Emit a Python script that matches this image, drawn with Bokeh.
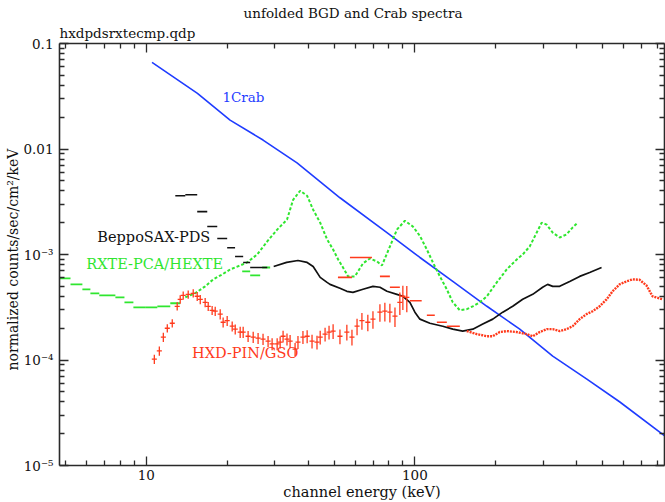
import numpy as np
from bokeh.plotting import figure
from bokeh.models import (FixedTicker, CustomJSTickFormatter, LogAxis, Title,
                          Range1d)
from bokeh.embed import file_html
from bokeh.resources import INLINE
from bokeh.core.properties import value

# ---------------- data ----------------
# 1 Crab model spectrum
crab_energy = [10.5, 15.5, 20.5, 27.2, 36.4, 52.6, 78.7, 104.4, 138.4, 185.4,
               245.7, 326, 435.5, 578, 849]
crab_rate = [0.0662, 0.0337, 0.0188, 0.01216, 7.38e-3, 3.45e-3, 1.61e-3, 9.37e-4,
             5.56e-4, 3.23e-4, 1.96e-4, 1.09e-4, 6.62e-5, 4.02e-5, 1.92e-5]

# RXTE-PCA/HEXTE background: wide low-energy bins
rxte_wide_lo = [4.7, 5.22, 5.78, 6.19, 6.68, 7.67, 8.29, 8.95, 9.96, 10.99, 12.28]
rxte_wide_hi = [5.22, 5.78, 6.19, 6.68, 7.67, 8.29, 8.95, 9.96, 10.99, 12.28, 13.37]
rxte_wide_rate = [5.94e-4, 5.21e-4, 4.68e-4, 4.29e-4, 4.10e-4, 3.93e-4, 3.52e-4,
                  3.16e-4, 3.16e-4, 3.23e-4, 3.45e-4]
# HEXTE wide bins lying below the PCA curve
hexte_lo = [22.75, 24.36, 27.0]
hexte_hi = [24.36, 26.54, 28.91]
hexte_rate = [6.91e-4, 6.34e-4, 7.53e-4]
# RXTE fine bins
rxte_energy = [13.97, 15.2, 16.56, 17.74, 19.16, 20.53, 22.36, 23.74, 25.86, 28.2,
               30.7, 33.4, 35.2, 37.4, 39.7, 41.8, 44.4, 47.1, 49.6, 51.8,
               54.0, 56.4, 59.8, 64.1, 68.0, 72.3, 75.4, 80.7, 85.7, 91.8,
               98.3, 104.4, 110.8, 116.7, 123.9, 131.5, 138.4, 147, 156, 164.3,
               174.5, 185.4, 201.8, 219.8, 239.5, 252, 267.6, 284, 296.5, 309.5,
               326, 346, 367, 386.5, 403.6]
rxte_rate = [3.93e-4, 4.29e-4, 4.99e-4, 5.81e-4, 6.47e-4, 7.22e-4, 7.87e-4, 8.41e-4, 1.0e-3, 1.33e-3,
             1.72e-3, 2.14e-3, 3.30e-3, 4.02e-3, 3.6e-3, 2.66e-3, 2.0e-3, 1.39e-3, 1.115e-3, 8.97e-4,
             7.53e-4, 6.2e-4, 6.2e-4, 8.23e-4, 9.16e-4, 8.59e-4, 7.87e-4, 1.19e-3, 1.72e-3, 2.09e-3,
             1.84e-3, 1.50e-3, 1.115e-3, 8.41e-4, 6.2e-4, 4.67e-4, 3.52e-4, 2.96e-4, 3.03e-4, 3.23e-4,
             3.52e-4, 4.02e-4, 5.44e-4, 7.22e-4, 8.97e-4, 1.0e-3, 1.19e-3, 1.61e-3, 2.0e-3, 1.92e-3,
             1.61e-3, 1.45e-3, 1.55e-3, 1.80e-3, 2.0e-3]

# BeppoSAX-PDS background: wide bins, then fine bins
pds_wide_lo = [12.82, 13.97, 15.47, 16.86, 18.37, 20.0, 21.4, 22.94, 24.36]
pds_wide_hi = [13.97, 15.47, 16.86, 18.37, 20.0, 21.4, 22.94, 24.36, 28.2]
pds_wide_rate = [3.60e-3, 3.68e-3, 2.55e-3, 1.84e-3, 1.42e-3, 1.16e-3, 9.57e-4, 8.41e-4, 7.53e-4]
pds_energy = [29.8, 33.3, 36.7, 39.7, 41.8, 44.4, 47.1, 48.3, 52.6, 55.8, 58.8, 64.1,
              69.8, 74.1, 78.7, 85.7, 90.2, 95.8, 100, 104.4, 113.7, 127, 138.4,
              150.7, 164.3, 179, 195, 212.4, 231.4, 252, 274.6, 299, 312, 326, 346,
              377, 410.7, 447.5, 495.5]
pds_rate = [7.7e-4, 8.41e-4, 8.77e-4, 8.41e-4, 7.7e-4, 6.07e-4, 5.44e-4, 5.21e-4, 4.78e-4,
            4.48e-4, 4.38e-4, 4.68e-4, 4.99e-4, 4.89e-4, 4.48e-4, 4.19e-4, 4.02e-4, 3.52e-4,
            2.84e-4, 2.44e-4, 2.23e-4, 2.09e-4, 1.96e-4, 1.88e-4, 1.96e-4, 2.19e-4, 2.44e-4,
            2.84e-4, 3.23e-4, 3.76e-4, 4.19e-4, 4.89e-4, 5.21e-4, 4.99e-4, 4.99e-4, 5.56e-4,
            6.2e-4, 6.76e-4, 7.53e-4]

# HXD-PIN (crosses with error bars)
pin_energy = [10.71, 11.18, 11.57, 11.97, 12.49, 13.03, 13.37, 13.72, 14.32, 14.95,
              15.47, 15.88, 16.56, 17.0, 17.58, 18.05, 18.84, 19.32, 20.0, 20.88,
              21.43, 22.36, 22.94, 23.93, 25.0, 26.07, 27.2, 28.4, 29.4, 30.7,
              31.5, 32.3, 33.4, 34.3, 35.8, 36.7, 38.3, 39.7, 41.4, 43.2,
              44.4, 46.3, 47.9, 49.6, 52.6, 55.8, 58.3, 60.9, 63.5, 66.8,
              69.8, 74.1, 77.3, 80.7, 84.3, 87.9, 90.2, 93.3]
pin_rate = [1.02e-4, 1.22e-4, 1.65e-4, 2.0e-4, 2.23e-4, 3.23e-4, 3.76e-4, 4.10e-4, 4.19e-4, 4.29e-4,
            4.02e-4, 3.76e-4, 3.52e-4, 3.23e-4, 2.96e-4, 2.90e-4, 2.72e-4, 2.28e-4, 2.36e-4, 2.09e-4,
            1.96e-4, 1.84e-4, 1.84e-4, 1.68e-4, 1.65e-4, 1.61e-4, 1.58e-4, 1.51e-4, 1.42e-4, 1.42e-4,
            1.48e-4, 1.68e-4, 1.58e-4, 1.51e-4, 1.27e-4, 1.48e-4, 1.65e-4, 1.68e-4, 1.51e-4, 1.48e-4,
            1.65e-4, 1.76e-4, 1.84e-4, 1.88e-4, 1.68e-4, 1.84e-4, 1.65e-4, 2.09e-4, 2.36e-4, 2.28e-4,
            2.44e-4, 2.84e-4, 2.90e-4, 2.84e-4, 2.60e-4, 3.52e-4, 4.02e-4, 3.93e-4]
pin_err = [0.10, 0.10, 0.10, 0.09, 0.09, 0.09, 0.09, 0.09, 0.09, 0.09,
           0.10, 0.10, 0.10, 0.10, 0.10, 0.10, 0.11, 0.11, 0.11, 0.11,
           0.11, 0.12, 0.12, 0.12, 0.12, 0.12, 0.12, 0.12, 0.13, 0.13,
           0.13, 0.13, 0.13, 0.14, 0.14, 0.14, 0.14, 0.14, 0.15, 0.15,
           0.15, 0.15, 0.15, 0.16, 0.16, 0.17, 0.17, 0.18, 0.18, 0.18,
           0.19, 0.19, 0.20, 0.20, 0.21, 0.24, 0.26, 0.28]

# HXD-GSO: wide bins, then fine bins
gso_wide_lo = [51.7, 57.3, 74.1, 80.7, 95.8, 110.8, 120.7, 131.5]
gso_wide_hi = [58.3, 69.2, 80.7, 87.9, 106.0, 118.6, 131.5, 147.0]
gso_wide_rate = [6.07e-4, 9.37e-4, 6.2e-4, 4.89e-4, 3.65e-4, 2.66e-4, 2.28e-4, 2.09e-4]
gso_energy = [156, 170, 185.4, 195, 207, 219.8, 239.5, 260.6, 274.6, 291.5,
              309.5, 326, 346, 367, 386.5, 410.7, 435.5, 459, 487.5, 517.6,
              544.6, 578.5, 613.6, 646, 686, 728, 767, 836]
gso_rate = [1.88e-4, 1.76e-4, 1.68e-4, 1.68e-4, 1.84e-4, 1.88e-4, 1.84e-4, 1.76e-4, 1.68e-4, 1.84e-4,
            1.96e-4, 1.96e-4, 1.88e-4, 1.96e-4, 2.09e-4, 2.44e-4, 2.72e-4, 2.90e-4, 3.23e-4, 3.76e-4,
            4.48e-4, 5.21e-4, 5.56e-4, 5.81e-4, 5.76e-4, 5.10e-4, 4.02e-4, 3.76e-4]

# axis ticks
x_major = [10, 100]
y_major = [1e-5, 1e-4, 1e-3, 1e-2, 1e-1]

# series labels (text, anchor energy, anchor rate)
label_text = ["1Crab", "BeppoSAX-PDS", "RXTE-PCA/HEXTE", "HXD-PIN/GSO"]
label_energy = [19.2, 6.57, 5.98, 14.8]
label_rate = [0.031, 1.45e-3, 8.05e-4, 1.16e-4]

# ---------------- styles ----------------
BLUE = "#1f3cff"
GREEN = "#2fe62f"
RED = "#ff3a1c"
BLACK = "#111111"
AXIS = "#2a2a2a"
FONT = "DejaVu Serif"
label_colors = [BLUE, BLACK, GREEN, RED]
label_sizes = ["13.5px", "14.5px", "14.5px", "14.5px"]

p = figure(width=665, height=502, x_axis_type="log", y_axis_type="log",
           x_range=Range1d(4.75, 850), y_range=Range1d(1e-5, 0.1),
           output_backend="svg", toolbar_location=None,
           min_border_left=59, min_border_right=1, min_border_top=43,
           min_border_bottom=35, background_fill_color="white",
           border_fill_color="white", outline_line_color=None)
p.xgrid.visible = False
p.ygrid.visible = False

x_minor = [m * 10 ** k for k in range(0, 3) for m in range(2, 10)]
y_minor = [m * 10.0 ** k for k in range(-5, -1) for m in range(2, 10)]
xticker = FixedTicker(ticks=x_major, minor_ticks=x_minor)
yticker = FixedTicker(ticks=y_major, minor_ticks=y_minor)

xfmt = CustomJSTickFormatter(code="return tick.toFixed(0);")
yfmt = CustomJSTickFormatter(code="""
const e = Math.round(Math.log10(tick));
const m = {"-1": "0.1", "-2": "0.01", "-3": "10\u207b\u00b3", "-4": "10\u207b\u2074", "-5": "10\u207b\u2075"};
return m[String(e)] || "";
""")
nofmt = CustomJSTickFormatter(code="return '';")


def style_axis(ax):
    ax.axis_line_color = AXIS
    ax.axis_line_width = 1.6
    ax.major_tick_in = 9
    ax.major_tick_out = 0
    ax.minor_tick_in = 5
    ax.minor_tick_out = 0
    ax.major_tick_line_color = AXIS
    ax.minor_tick_line_color = AXIS
    ax.major_tick_line_width = 1.3
    ax.minor_tick_line_width = 1.3
    ax.major_label_text_font = FONT
    ax.major_label_text_color = BLACK
    ax.major_label_text_font_size = "13.5px"
    ax.axis_label_text_font = FONT
    ax.axis_label_text_font_style = "normal"
    ax.axis_label_text_color = BLACK
    ax.axis_label_text_font_size = "14.5px"


xax = p.xaxis[0]
xax.ticker = xticker
xax.formatter = xfmt
style_axis(xax)
xax.axis_label = "channel energy (keV)"
xax.major_label_standoff = 4
xax.axis_label_standoff = 1

yax = p.yaxis[0]
yax.ticker = yticker
yax.formatter = yfmt
style_axis(yax)
yax.major_label_standoff = 6

ylab = Title(text="normalized counts/sec/cm\u00b2/keV", align="left", offset=95,
             standoff=0, text_font=FONT, text_font_size="14px",
             text_font_style="normal", text_color=BLACK)
p.add_layout(ylab, "left")

rax = LogAxis(ticker=yticker, formatter=nofmt)
style_axis(rax)
rax.major_label_standoff = 0
tax = LogAxis(ticker=xticker, formatter=nofmt)
style_axis(tax)
tax.major_label_standoff = 0
p.add_layout(rax, "right")
p.add_layout(tax, "above")

p.title.text = "unfolded BGD and Crab spectra"
p.title.align = "left"
p.title.offset = 184
p.title.standoff = 0
p.title.text_font = FONT
p.title.text_font_size = "13.5px"
p.title.text_font_style = "normal"
p.title.text_color = BLACK
sub = Title(text="hxdpdsrxtecmp.qdp", align="left", text_font=FONT, standoff=5,
            text_font_size="13.5px", text_font_style="normal", text_color=BLACK)
p.add_layout(sub, "above")

# ---------------- glyphs ----------------
# Crab
p.line(crab_energy, crab_rate, line_color=BLUE, line_width=1.6)

# RXTE
p.segment(x0=rxte_wide_lo, y0=rxte_wide_rate, x1=rxte_wide_hi, y1=rxte_wide_rate,
          line_color=GREEN, line_width=1.8)
p.segment(x0=hexte_lo, y0=hexte_rate, x1=hexte_hi, y1=hexte_rate,
          line_color=GREEN, line_width=1.8)
p.line(rxte_energy, rxte_rate, line_color=GREEN, line_width=2, line_dash="3 2")

# PDS
p.segment(x0=pds_wide_lo, y0=pds_wide_rate, x1=pds_wide_hi, y1=pds_wide_rate,
          line_color=BLACK, line_width=1.6)
p.line(pds_energy, pds_rate, line_color=BLACK, line_width=1.7)

# PIN crosses
pe = np.array(pin_energy)
pr = np.array(pin_rate)
perr = np.array(pin_err)
arm = 1.022
p.segment(x0=pe / arm, y0=pr, x1=pe * arm, y1=pr, line_color=RED, line_width=1.3)
p.segment(x0=pe, y0=pr * (1 - perr), x1=pe, y1=pr * (1 + perr), line_color=RED, line_width=1.3)

# GSO
p.segment(x0=gso_wide_lo, y0=gso_wide_rate, x1=gso_wide_hi, y1=gso_wide_rate,
          line_color=RED, line_width=1.6)
p.line(gso_energy, gso_rate, line_color=RED, line_width=2.4, line_dash="2 1")

# series labels
for t, xe, yr, c, s in zip(label_text, label_energy, label_rate, label_colors, label_sizes):
    p.text(x=[xe], y=[yr], text=[t], text_color=c, text_font=value(FONT),
           text_font_size=s, text_baseline="middle", text_align="left")

open("out.html", "w").write(file_html(p, INLINE))
